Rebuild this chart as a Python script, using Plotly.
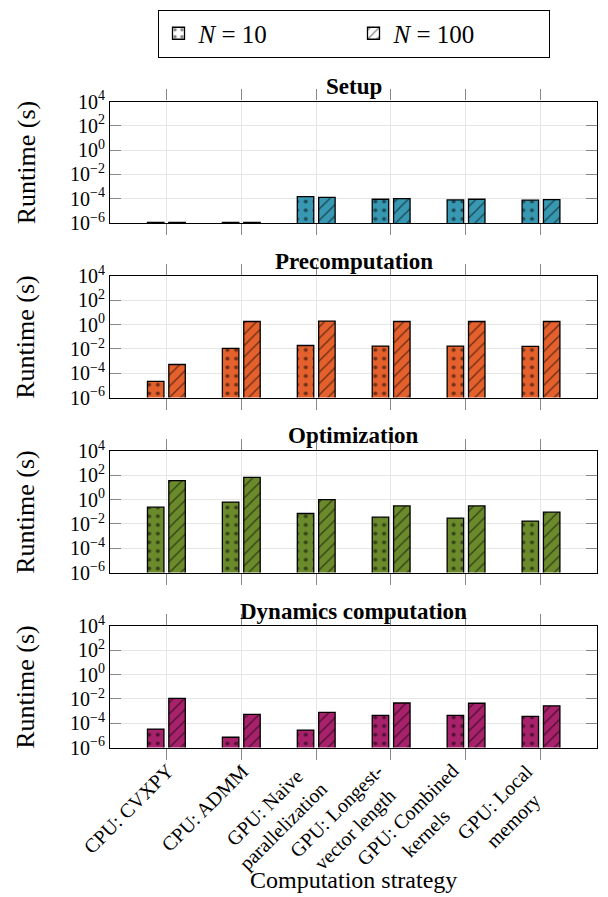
import plotly.graph_objects as go

categories = ["CPU: CVXPY", "CPU: ADMM", "GPU: Naive<br>parallelization",
              "GPU: Longest-<br>vector length", "GPU: Combined<br>kernels", "GPU: Local<br>memory"]
panel_titles = ["Setup", "Precomputation", "Optimization", "Dynamics computation"]
panel_colors = ["#3898b2", "#e4602c", "#6a8a2b", "#a7216b"]

setup_n10 = [1.1e-6, 1.1e-6, 1.5e-4, 9e-5, 8e-5, 7.5e-5]
setup_n100 = [1.1e-6, 1.1e-6, 1.3e-4, 1.0e-4, 9e-5, 8.5e-5]
precomp_n10 = [2.1e-5, 1.1e-2, 1.9e-2, 1.7e-2, 1.7e-2, 1.6e-2]
precomp_n100 = [5.2e-4, 1.8, 1.9, 1.8, 1.8, 1.8]
opt_n10 = [0.24, 0.63, 0.072, 0.036, 0.030, 0.017]
opt_n100 = [36, 68, 0.98, 0.30, 0.30, 0.093]
dyn_n10 = [3.3e-5, 7e-6, 2.7e-5, 4.4e-4, 4.4e-4, 3.6e-4]
dyn_n100 = [1.1e-2, 5.3e-4, 7.7e-4, 4.6e-3, 4.4e-3, 2.7e-3]

ytick_vals = [1e-6, 1e-4, 1e-2, 1e0, 1e2, 1e4]
ytick_text = ["10<sup>−6</sup>", "10<sup>−4</sup>", "10<sup>−2</sup>", "10<sup>0</sup>",
              "10<sup>2</sup>", "10<sup>4</sup>"]
series_names = ["<i>N</i> = 10", "<i>N</i> = 100"]

n10_all = [setup_n10, precomp_n10, opt_n10, dyn_n10]
n100_all = [setup_n100, precomp_n100, opt_n100, dyn_n100]

FONT = "Liberation Serif"
xpos = list(range(len(categories)))

# plot area pixel geometry (plot area spans full height so nothing pushes margins)
W, H = 608, 897
ml, mr = 110, 11
pw = W - ml - mr
tops_px = [101.5, 276, 451, 626]
box_h = 121.5
XLAB_SIZE = 20

def fy(px):
    return (H - px) / H

def fx(px):
    return (px - ml) / pw

fig = go.Figure()

def pat(shape):
    if shape == ".":
        return dict(shape=".", fgcolor="black", size=8.7, solidity=0.17, fillmode="overlay")
    return dict(shape="/", fgcolor="black", size=8, solidity=0.18, fillmode="overlay")

for i in range(4):
    sfx = "" if i == 0 else str(i + 1)
    color = panel_colors[i]
    fig.add_trace(go.Bar(
        x=xpos, y=n10_all[i], xaxis="x" + sfx, yaxis="y" + sfx,
        width=0.22, offset=-0.25, showlegend=False, name=series_names[0],
        marker=dict(color=color, line=dict(color="black", width=1.3), pattern=pat(".")),
    ))
    fig.add_trace(go.Bar(
        x=xpos, y=n100_all[i], xaxis="x" + sfx, yaxis="y" + sfx,
        width=0.22, offset=0.035, showlegend=False, name=series_names[1],
        marker=dict(color=color, line=dict(color="black", width=1.3), pattern=pat("/")),
    ))

# legend-only entries
for name, shape in zip(series_names, [".", "/"]):
    fig.add_trace(go.Bar(
        x=[None], y=[None], xaxis="x", yaxis="y", name=name, showlegend=True,
        marker=dict(color="white", line=dict(color="black", width=1.3), pattern=pat(shape)),
    ))

layout = dict(
    width=W, height=H,
    margin=dict(l=ml, r=mr, t=0, b=0, autoexpand=False),
    paper_bgcolor="white", plot_bgcolor="white",
    barmode="overlay",
    font=dict(family=FONT, color="black", size=20),
    legend=dict(orientation="h", x=fx(353.5), xanchor="center", y=fy(33.5), yanchor="middle",
                bordercolor="black", borderwidth=1, font=dict(size=25, family=FONT),
                entrywidth=150, entrywidthmode="pixels", traceorder="normal",
                itemwidth=30),
)

annotations = []
for i in range(4):
    sfx = "" if i == 0 else str(i + 1)
    top = tops_px[i]
    dom = [fy(top + box_h), fy(top)]
    layout["xaxis" + sfx] = dict(
        domain=[0, 1], range=[-0.75, 5.75], anchor="y" + sfx,
        tickvals=xpos, showticklabels=False,
        ticks="outside", ticklen=11, tickcolor="#888888", tickwidth=1,
        showline=True, linecolor="black", linewidth=1.2, mirror="ticks",
        showgrid=True, gridcolor="#e6e6e6", zeroline=False, automargin=False,
    )
    layout["yaxis" + sfx] = dict(
        domain=dom, type="log", range=[-6, 4], anchor="x" + sfx,
        tickvals=ytick_vals, ticktext=ytick_text, tickfont=dict(size=20),
        ticks="inside", ticklen=11, tickcolor="#888888", tickwidth=1,
        showline=True, linecolor="black", linewidth=1.2, mirror="ticks",
        showgrid=True, gridcolor="#e6e6e6", zeroline=False, automargin=False,
    )
    annotations.append(dict(
        text="<b>" + panel_titles[i] + "</b>", xref="paper", yref="paper",
        x=0.5, y=dom[1], yshift=15, xanchor="center", yanchor="middle",
        showarrow=False, font=dict(size=23, family=FONT),
    ))
    annotations.append(dict(
        text="Runtime (s)", xref="paper", yref="paper", textangle=-90,
        x=fx(26), y=(dom[0] + dom[1]) / 2,
        xanchor="center", yanchor="middle", showarrow=False,
        font=dict(size=26, family=FONT),
    ))

# rotated category labels under the bottom panel, ending at each tick
for xi, lab in zip(xpos, categories):
    n_lines = lab.count("<br>") + 1
    annotations.append(dict(
        text=lab, xref="x4", x=xi, yref="paper", y=fy(757),
        xanchor="right", yanchor="top", textangle=-45, align="center",
        xshift=14 + 4 * (n_lines - 1), showarrow=False,
        font=dict(size=XLAB_SIZE, family=FONT),
    ))

annotations.append(dict(
    text="Computation strategy", xref="paper", yref="paper",
    x=fx(353), y=fy(880), xanchor="center", yanchor="middle", showarrow=False,
    font=dict(size=24, family=FONT),
))
layout["annotations"] = annotations
fig.update_layout(**layout)
fig.write_html("out.html", config={"displayModeBar": False},
               post_script="document.body.style.margin='0px';")
